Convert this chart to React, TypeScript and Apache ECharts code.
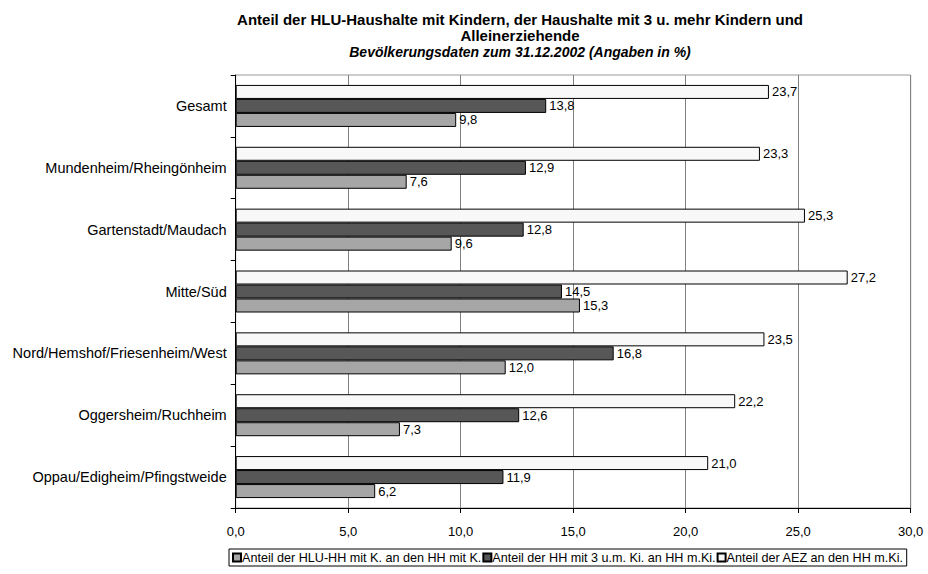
import React, { useEffect, useRef } from "react";
import * as echarts from "echarts";

const categories = [
  "Gesamt",
  "Mundenheim/Rheingönheim",
  "Gartenstadt/Maudach",
  "Mitte/Süd",
  "Nord/Hemshof/Friesenheim/West",
  "Oggersheim/Ruchheim",
  "Oppau/Edigheim/Pfingstweide",
];
const hluValues = [9.8, 7.6, 9.6, 15.3, 12.0, 7.3, 6.2];
const kinder3Values = [13.8, 12.9, 12.8, 14.5, 16.8, 12.6, 11.9];
const aezValues = [23.7, 23.3, 25.3, 27.2, 23.5, 22.2, 21.0];

const seriesNames = [
  "Anteil der HLU-HH mit K. an den HH mit K.",
  "Anteil der HH mit 3 u.m. Ki. an HH m.Ki.",
  "Anteil der AEZ an den HH m.Ki.",
];

const FONT = "Arial, 'Liberation Sans', sans-serif";
const fmt = (v: number) => v.toFixed(1).replace(".", ",");

export default function App() {
  const ref = useRef<HTMLDivElement>(null);
  useEffect(() => {
    if (!ref.current) return;
    const chart = echarts.init(ref.current, null, { renderer: "svg" });
    const label = {
      show: true,
      position: "right" as const,
      distance: 3,
      color: "#000",
      fontSize: 13,
      fontFamily: FONT,
      formatter: (p: any) => fmt(p.value),
    };
    const mk = (name: string, data: number[], color: string) => ({
      name,
      type: "bar" as const,
      data,
      barWidth: 14,
      barGap: "0%",
      itemStyle: { color, borderColor: "#000", borderWidth: 1 },
      label,
    });
    chart.setOption({
      animation: false,
      backgroundColor: "#fff",
      textStyle: { fontFamily: FONT },
      title: {
        text: "Anteil der HLU-Haushalte mit Kindern, der Haushalte mit 3 u. mehr Kindern und\nAlleinerziehende",
        subtext: "Bevölkerungsdaten zum 31.12.2002 (Angaben in %)",
        left: 515,
        textAlign: "center",
        top: 6,
        itemGap: 1,
        textStyle: {
          fontFamily: FONT,
          fontSize: 15,
          fontWeight: "bold",
          color: "#000",
          lineHeight: 16,
        },
        subtextStyle: {
          fontFamily: FONT,
          fontSize: 14,
          fontWeight: "bold",
          fontStyle: "italic",
          color: "#000",
          lineHeight: 16,
        },
      },
      legend: {
        data: seriesNames,
        bottom: 8,
        left: 229,
        itemWidth: 8,
        itemHeight: 8,
        itemGap: 1,
        borderColor: "#000",
        borderWidth: 1,
        padding: [2, 3],
        borderRadius: 0,
        textStyle: { fontFamily: FONT, fontSize: 12.6, color: "#000", padding: [0, 0, 0, -4] },
        icon: "rect",
      },
      grid: {
        left: 235.7,
        right: 17.3,
        top: 75,
        bottom: 66,
        show: true,
        borderColor: "#999",
        borderWidth: 1,
        containLabel: false,
      },
      xAxis: {
        type: "value",
        min: 0,
        max: 30,
        interval: 5,
        axisLine: { show: true, lineStyle: { color: "#000" } },
        axisTick: { show: true, length: 5, lineStyle: { color: "#000" } },
        axisLabel: {
          formatter: (v: number) => fmt(v),
          color: "#000",
          fontSize: 13,
          fontFamily: FONT,
          margin: 17,
        },
        splitLine: { show: true, lineStyle: { color: "#808080" } },
      },
      yAxis: {
        type: "category",
        data: categories,
        inverse: true,
        axisLine: { show: true, lineStyle: { color: "#000" } },
        axisTick: { show: true, length: 5, lineStyle: { color: "#000" } },
        axisLabel: { color: "#000", fontSize: 14.5, fontFamily: FONT, margin: 9 },
        splitLine: { show: false },
      },
      series: [
        mk(seriesNames[2], aezValues, "#f8f8f8"),
        mk(seriesNames[1], kinder3Values, "#575757"),
        mk(seriesNames[0], hluValues, "#a6a6a6"),
      ],
    });
    return () => chart.dispose();
  }, []);
  return (
    <div
      ref={ref}
      style={{ position: "absolute", left: 0, top: 0, width: 928, height: 574 }}
    />
  );
}
